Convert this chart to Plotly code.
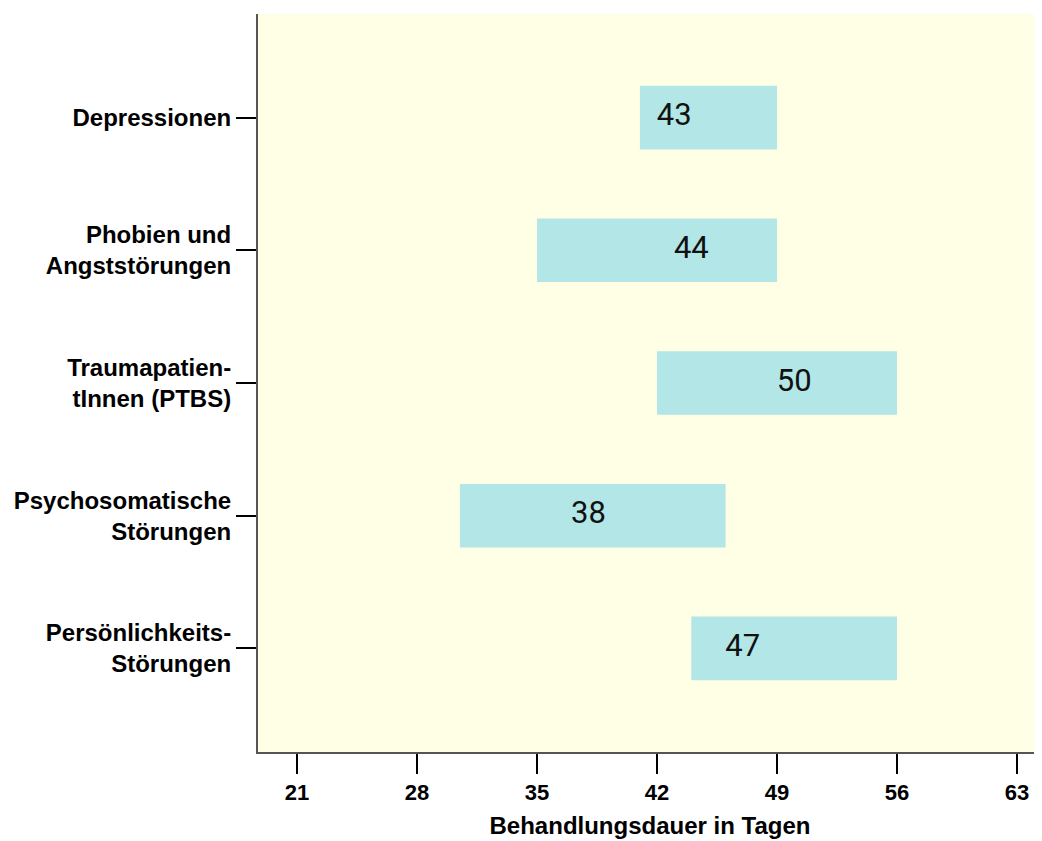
import plotly.graph_objects as go

categories = ["Depressionen", "Phobien und<br>Angststörungen", "Traumapatien-<br>tInnen (PTBS)",
              "Psychosomatische<br>Störungen", "Persönlichkeits-<br>Störungen"]
lower = [41, 35, 42, 30.5, 44]
upper = [49, 49, 56, 46, 56]
median = [43, 44, 50, 38, 47]
x_ticks = [21, 28, 35, 42, 49, 56, 63]

fig = go.Figure()
fig.add_trace(go.Bar(
    y=categories, x=[u - l for u, l in zip(upper, lower)], base=lower,
    orientation="h", width=0.48, marker=dict(color="#B3E6E6", line=dict(width=0)),
    hoverinfo="skip", showlegend=False))
fig.add_trace(go.Scatter(
    y=categories, x=median, mode="text", text=[str(m) for m in median],
    textfont=dict(family="Roboto", size=31, color="#111111"),
    textposition="middle center", hoverinfo="skip", showlegend=False))

def bold(size):
    return dict(family="Liberation Sans, Arial", size=size, color="black", weight="bold")

fig.update_layout(
    width=1034, height=833,
    margin=dict(l=250, r=0, t=6, b=89),
    paper_bgcolor="white", plot_bgcolor="#FFFFE6",
    xaxis=dict(range=[18.72, 64.46], tickvals=x_ticks, ticktext=[str(t) for t in x_ticks],
               showgrid=False, zeroline=False, showline=True, linecolor="#555555", linewidth=2,
               ticks="outside", ticklen=20, tickwidth=2, tickcolor="black",
               tickfont=bold(22),
               title=dict(text="Behandlungsdauer in Tagen", font=bold(24), standoff=13)),
    yaxis=dict(type="category", range=[4.78, -0.78], showgrid=False, zeroline=False,
               showline=True, linecolor="#555555", linewidth=2,
               ticks="outside", ticklen=20, tickwidth=2, tickcolor="black",
               tickfont=bold(24)),
)
fig.write_html("out.html")
